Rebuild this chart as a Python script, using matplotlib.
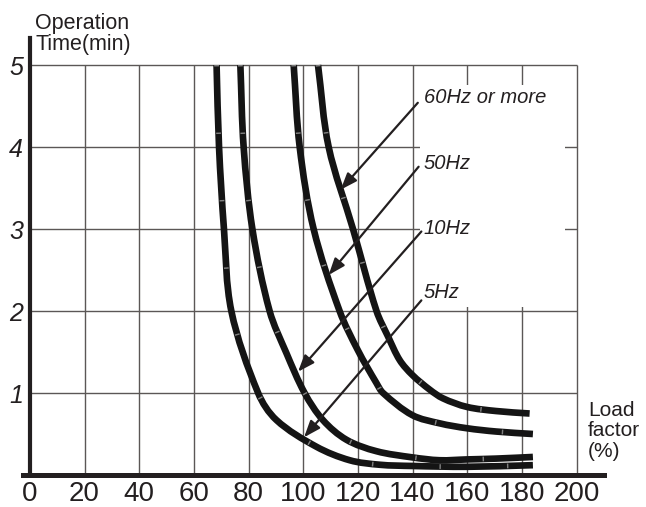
import matplotlib
matplotlib.use("Agg")
import numpy as np
import matplotlib.pyplot as plt
from matplotlib.patches import Rectangle, PathPatch
from matplotlib.path import Path

plt.rcParams['font.family'] = ['Liberation Sans', 'DejaVu Sans']

# ---- data ----
x_5hz = [68.3, 69.2, 71.0, 73.7, 83.5, 90.2, 104.8, 117.0, 128.0, 139.9, 159.9, 184.0]
y_5hz = [5.0, 4.0, 3.0, 2.0, 1.0, 0.67, 0.345, 0.18, 0.125, 0.11, 0.10, 0.12]

x_10hz = [77.0, 78.2, 81.4, 87.7, 93.8, 100.5, 107.2, 115.8, 126.8, 139.9, 149.9, 159.9, 170.6, 184.0]
y_10hz = [5.0, 4.0, 3.0, 2.0, 1.49, 1.0, 0.67, 0.43, 0.29, 0.215, 0.18, 0.19, 0.20, 0.22]

x_50hz = [96.5, 98.7, 103.8, 113.3, 120.0, 126.8, 129.2, 139.9, 149.9, 159.9, 170.6, 184.0]
y_50hz = [5.0, 4.0, 3.0, 2.0, 1.52, 1.12, 1.0, 0.73, 0.63, 0.57, 0.53, 0.50]

x_60hz = [105.4, 109.3, 118.2, 126.8, 131.0, 135.3, 139.9, 146.3, 151.1, 159.9, 170.6, 182.8]
y_60hz = [5.0, 4.0, 3.0, 2.0, 1.69, 1.40, 1.22, 1.04, 0.935, 0.83, 0.78, 0.75]

curve_labels = ["60Hz or more", "50Hz", "10Hz", "5Hz"]
label_x = [144.0, 144.0, 144.0, 144.0]
label_y = [4.6, 3.8, 3.01, 2.23]
arrow_start = [(141.9, 4.54), (142.2, 3.76), (143.2, 2.97), (143.2, 2.13)]
arrow_tip = [(113.7, 3.48), (109.3, 2.44), (98.1, 1.26), (100.3, 0.46)]

x_ticks = [0, 20, 40, 60, 80, 100, 120, 140, 160, 180, 200]
y_ticks = [1, 2, 3, 4, 5]


def smooth_path(xs, ys, sx, sy):
    """Bezier path passing through the data points (smooth line rendering)."""
    P = np.column_stack([np.asarray(xs) * sx, np.asarray(ys) * sy])
    n = len(P)
    dirs = []
    for i in range(n):
        a = P[max(i - 1, 0)]
        b = P[min(i + 1, n - 1)]
        d = b - a
        dirs.append(d / np.linalg.norm(d))
    verts = [P[0]]
    codes = [Path.MOVETO]
    for i in range(n - 1):
        L = np.linalg.norm(P[i + 1] - P[i])
        c1 = P[i] + dirs[i] * L / 3
        c2 = P[i + 1] - dirs[i + 1] * L / 3
        verts += [c1, c2, P[i + 1]]
        codes += [Path.CURVE4] * 3
    V = np.array(verts)
    V[:, 0] /= sx
    V[:, 1] /= sy
    return Path(V, codes)


# ---- figure ----
fig = plt.figure(figsize=(6.46, 5.07), dpi=100)
ax = fig.add_axes([23 / 646, 32 / 507, (604 - 23) / 646, (475 - 38) / 507])
ax.set_xlim(-2.5, 210)
ax.set_ylim(0, 5.33)

axis_col = '#231f20'
grid_col = '#5b5756'

# grid box
ax.vlines(x_ticks[1:], 0, y_ticks[-1], colors=grid_col, lw=1.0, zorder=1)
ax.hlines(y_ticks, 0, x_ticks[-1], colors=grid_col, lw=1.0, zorder=1)

# white background behind curve labels
ax.add_patch(Rectangle((142.6, 2.05), 195.6 - 142.6, 4.76 - 2.05,
                       facecolor='white', edgecolor='none', zorder=2))

curve_col = '#141414'
for xs, ys in [(x_5hz, y_5hz), (x_10hz, y_10hz), (x_50hz, y_50hz), (x_60hz, y_60hz)]:
    path = smooth_path(xs, ys, 2.735, 82.0)
    ax.add_patch(PathPatch(path, facecolor='none', edgecolor=curve_col, lw=4.8,
                           capstyle='butt', joinstyle='round', zorder=4))
    ax.add_patch(PathPatch(path, facecolor='none', edgecolor='#c8c8c8', lw=3.4,
                           linestyle=(0, (0.3, 14)), capstyle='butt',
                           alpha=0.6, zorder=5))

for lab, lx, ly, s, t in zip(curve_labels, label_x, label_y, arrow_start, arrow_tip):
    ax.text(lx, ly, lab, fontsize=14.5, style='italic', color='#231f20',
            ha='left', va='center', zorder=6)
    ax.annotate('', xy=t, xytext=s,
                arrowprops=dict(arrowstyle='-|>,head_length=1.0,head_width=0.38',
                                lw=1.6, color=axis_col, shrinkA=0, shrinkB=0),
                zorder=6)

# spines
for side in ['top', 'right']:
    ax.spines[side].set_visible(False)
ax.spines['left'].set_position(('data', 0))
ax.spines['left'].set_linewidth(3.0)
ax.spines['left'].set_color(axis_col)
ax.spines['bottom'].set_linewidth(3.6)
ax.spines['bottom'].set_color(axis_col)
ax.spines['left'].set_zorder(7)
ax.spines['bottom'].set_zorder(7)

ax.set_xticks(x_ticks)
ax.set_xticklabels([str(v) for v in x_ticks], fontsize=20, color='#231f20')
ax.set_yticks(y_ticks)
ax.set_yticklabels([str(v) for v in y_ticks], fontsize=18, style='italic', color='#231f20')
ax.tick_params(axis='both', length=0)
ax.tick_params(axis='x', pad=4)
ax.tick_params(axis='y', pad=5)

fig.text(35 / 646, 1 - 34 / 507, "Operation\nTime(min)", fontsize=15.5, color='#231f20',
         ha='left', va='center', linespacing=1.05)
fig.text(588 / 646, 1 - 431 / 507, "Load\nfactor\n(%)", fontsize=15, color='#231f20',
         ha='left', va='center', linespacing=1.08)

fig.savefig("out.png", dpi=100)
